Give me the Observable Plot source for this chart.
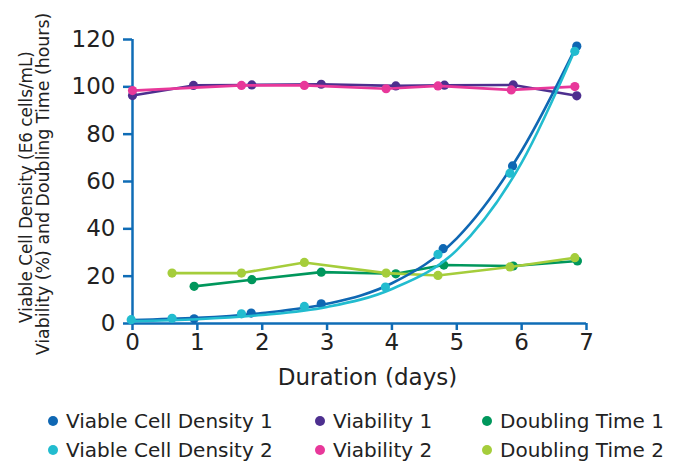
<!DOCTYPE html>
<html><head><meta charset="utf-8">
<script src="https://cdn.jsdelivr.net/npm/d3@7"></script>
<script src="https://cdn.jsdelivr.net/npm/@observablehq/plot@0.6"></script>
<style>
body{margin:0;background:#fff;font-family:"DejaVu Sans",Verdana,sans-serif;}
#wrap{position:relative;width:681px;height:462px;overflow:hidden;}
#legend{position:absolute;left:0;top:407px;width:681px;font-size:20px;color:#222;}
.item{position:absolute;display:flex;align-items:center;white-space:nowrap;height:28px;}
.dot{width:10px;height:10px;border-radius:50%;margin-right:8px;}
.yt{position:absolute;transform:translate(-50%,-50%) rotate(-90deg);line-height:1;white-space:nowrap;color:#222;}
</style></head>
<body><div id="wrap"><div id="chart"></div><div id="legend"></div></div>
<script>
const seriesNames = ["Viable Cell Density 1","Viable Cell Density 2","Viability 1","Viability 2","Doubling Time 1","Doubling Time 2"];
const seriesColors = ["#0f67b3","#22bccf","#4d2f8f","#e8389a","#00975c","#a5cd3b"];

const vcd1Days = [0.95,1.83,2.91,4.79,5.86,6.85];
const vcd1Vals = [2.0,4.4,8.3,31.6,66.6,117.2];
const vcd1FitDays = [0,1,2,3,4,5,6,6.85];
const vcd1FitVals = [1.5,2.4,4.4,8.3,17,36,73,117.5];

const vcd2Days = [-0.02,0.61,1.68,2.65,3.9,4.71,5.82,6.82];
const vcd2Vals = [1.6,2.2,4.1,7.2,15.4,29.2,63.5,115];
const vcd2FitDays = [0,1,2,3,4,5,6,6.82];
const vcd2FitVals = [1.0,1.8,3.6,7.0,14.6,31,68,115.5];

const via1Days = [0,0.94,1.84,2.91,4.06,4.81,5.87,6.85];
const via1Vals = [96.3,100.6,100.8,101.1,100.4,100.7,100.8,96.2];

const via2Days = [0,1.68,2.65,3.91,4.71,5.84,6.82];
const via2Vals = [98.4,100.6,100.6,99.2,100.4,98.7,100.1];

const dt1Days = [0.95,1.84,2.91,4.06,4.80,5.87,6.86];
const dt1Vals = [15.7,18.5,21.7,21.0,24.7,24.3,26.4];

const dt2Days = [0.61,1.68,2.65,3.91,4.71,5.82,6.82];
const dt2Vals = [21.3,21.3,25.8,21.3,20.3,23.9,27.8];

const xTicks = [0,1,2,3,4,5,6,7];
const yTicks = [0,20,40,60,80,100,120];
const xLabel = "Duration (days)";
const yLabelLines = ["Viable Cell Density (E6 cells/mL)", "Viability (%) and Doubling Time (hours)"];

const axisBlue = "#0f6cb6";
const toRows = (ds, vs, s) => ds.map((d,i)=>({day:d, value:vs[i], series:s}));

const pointSets = [
  toRows(vcd1Days, vcd1Vals, 0), toRows(vcd2Days, vcd2Vals, 1),
  toRows(via1Days, via1Vals, 2), toRows(via2Days, via2Vals, 3),
  toRows(dt1Days, dt1Vals, 4), toRows(dt2Days, dt2Vals, 5)
];
const lineSets = [
  {rows: toRows(vcd1FitDays, vcd1FitVals, 0), curve: "monotone-x"},
  {rows: toRows(vcd2FitDays, vcd2FitVals, 1), curve: "monotone-x"},
  {rows: pointSets[2], curve: "linear"},
  {rows: pointSets[3], curve: "linear"},
  {rows: pointSets[4], curve: "linear"},
  {rows: pointSets[5], curve: "linear"}
];
const drawOrder = [4,5,2,3,0,1];

const marks = [];
for (const i of drawOrder) {
  marks.push(Plot.line(lineSets[i].rows, {x:"day", y:"value", stroke: seriesColors[i], strokeWidth: 2.6, curve: lineSets[i].curve}));
  marks.push(Plot.dot(pointSets[i], {x:"day", y:"value", r:4.6, fill: seriesColors[i], stroke:"none"}));
}

const chart = Plot.plot({
  width: 681, height: 400,
  marginLeft: 132, marginRight: 95, marginTop: 39, marginBottom: 77,
  style: {fontFamily: '"DejaVu Sans",Verdana,sans-serif', background: "transparent", overflow: "visible"},
  x: {domain: [0,7]},
  y: {domain: [0,120]},
  marks: [
    Plot.axisX({ticks: xTicks, tickSize: 7, tickPadding: 3, stroke: axisBlue, strokeWidth: 2.5, fill: "#222", fontSize: 23, label: null, tickFormat: d=>String(d)}),
    Plot.axisY({ticks: yTicks, tickSize: 9, tickPadding: 8, stroke: axisBlue, strokeWidth: 2.5, fill: "#222", fontSize: 23, label: null, tickFormat: d=>String(d)}),
    Plot.ruleY([0], {stroke: axisBlue, strokeWidth: 2.5}),
    Plot.ruleX([0], {stroke: axisBlue, strokeWidth: 2.5}),
    ...marks,
    Plot.text([xLabel], {frameAnchor: "bottom", dy: 61, dx: 8, fontSize: 23, fill: "#222"})
  ]
});
document.getElementById("chart").appendChild(chart);

// y title: two rotated lines, sized to the reference lengths
const ctx = document.createElement("canvas").getContext("2d");
const ytLayout = [{cx: 26, cy: 187, len: 272}, {cx: 44, cy: 184, len: 343}];
const wrap = document.getElementById("wrap");
yLabelLines.forEach((s,i)=>{
  ctx.font = '18px "DejaVu Sans"';
  const w = ctx.measureText(s).width;
  const fs = 18 * ytLayout[i].len / w;
  const d = document.createElement("div");
  d.className = "yt";
  d.style.fontSize = fs.toFixed(2) + "px";
  d.style.left = ytLayout[i].cx + "px";
  d.style.top = ytLayout[i].cy + "px";
  d.textContent = s;
  wrap.appendChild(d);
});

const legendPos = [[48,0],[48,29],[315,0],[315,29],[482,0],[482,29]];
const lg = document.getElementById("legend");
seriesNames.forEach((n,i)=>{
  const it = document.createElement("div");
  it.className = "item";
  it.style.left = legendPos[i][0] + "px";
  it.style.top = legendPos[i][1] + "px";
  const d = document.createElement("span"); d.className = "dot"; d.style.background = seriesColors[i];
  const t = document.createElement("span"); t.textContent = n;
  it.appendChild(d); it.appendChild(t); lg.appendChild(it);
});
</script></body></html>
